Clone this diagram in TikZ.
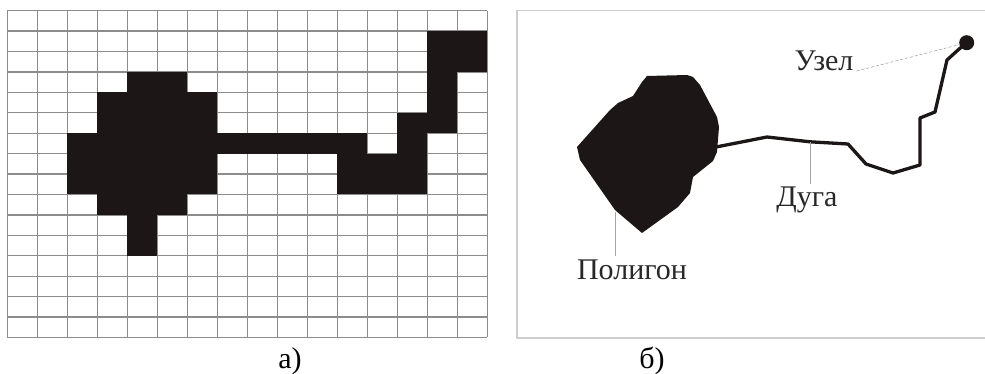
\documentclass[tikz,border=0pt]{standalone}
\usepackage{fontspec}
\setmainfont{Liberation Serif}
\definecolor{ink}{RGB}{28,22,22}
\definecolor{gridgray}{RGB}{140,140,140}
\definecolor{framegray}{RGB}{205,205,205}
\definecolor{labelgray}{RGB}{40,40,40}
\def\cw{30pt}
\def\ch{20.42pt}

\begin{document}
\begin{tikzpicture}[x=1pt, y=-1pt]
	\tikzset{gridline/.style={gridgray, line width=1.3pt},
		cell/.style={fill=ink},
		leader/.style={gray!70, line width=.6pt},
		tag/.style={labelgray, inner sep=3pt, font=\fontsize{30}{36}\selectfont},
		caption/.style={inner sep=1pt, font=\fontsize{30}{36}\selectfont}}
	\useasboundingbox (0,0) rectangle (985,374);
	\fill[white] (0,0) rectangle (985,374);
	% raster
	\begin{scope}[shift={(7.3,10.7)}, x=\cw, y=-\ch]
		\foreach \i in {0,...,16} {
			\draw[gridline] (\i,0) -- (\i,16);
			\draw[gridline] (0,\i) -- (16,\i);
		}
		\foreach \r/\a/\b in {1/14/15, 2/14/15, 3/4/5, 3/14/14, 4/3/6, 4/14/14,
				5/3/6, 5/13/14, 6/2/11, 6/13/13, 7/2/6, 7/11/13, 8/2/6, 8/11/13,
				9/3/5, 10/4/4, 11/4/4}
			\fill[cell] (\a,\r) rectangle (\b+1,\r+1);
	\end{scope}
	% vector
	\draw[framegray, line width=1.5pt] (517,10.7) rectangle (992,338);
	\fill[ink] (577,147) -- (580,160) -- (615,210) -- (642,233) -- (678,207)
		-- (690,193) -- (693,177) -- (713,161) -- (717,152) -- (719,127)
		-- (717,117) -- (700,85) -- (693,77) -- (687,75) -- (647,76)
		-- (642,82) -- (633,96) -- (618,103) -- (610,110) -- cycle;
	\node[circle, fill=ink, inner sep=0pt, minimum size=15pt] (knot) at (966.7,42.7) {};
	\coordinate (arcstart) at (716,147);
	\coordinate (arcpt) at (810,141.8);
	\coordinate (polypt) at (615,212);
	\draw[ink, line width=3.3pt, line join=round] (arcstart) -- (767,137) -- (arcpt)
		-- (848,144) -- (866,164) -- (893,173) -- (920,165) -- (920,118)
		-- (935,112) -- (947,60) -- (958,50) -- (knot.center);
	\node[tag, anchor=base] (uzel) at (824,71) {Узел};
	\node[tag, anchor=base] (duga) at (807,207) {Дуга};
	\node[tag, anchor=base] (poligon) at (632,279) {Полигон};
	\draw[leader, dash pattern=on 3pt off 2pt] (uzel.base east) -- (knot);
	\draw[leader] (arcpt) -- (arcpt |- duga.north);
	\draw[leader] (polypt) -- (polypt |- poligon.north);
	\node[caption, anchor=base] (capa) at (290,368) {а)};
	\node[caption, anchor=base] (capb) at (652,368) {б)};
\end{tikzpicture}
\end{document}
